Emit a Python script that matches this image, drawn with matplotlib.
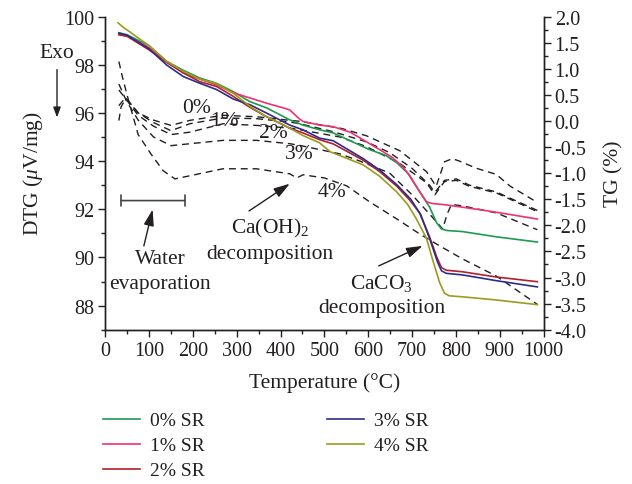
import matplotlib
matplotlib.use("Agg")
import matplotlib.pyplot as plt
from matplotlib.patches import FancyArrowPatch
from matplotlib.ticker import MultipleLocator, FormatStrFormatter

plt.rcParams["font.family"] = ["Liberation Serif", "DejaVu Serif"]
plt.rcParams["mathtext.fontset"] = "custom"
plt.rcParams["mathtext.rm"] = "Liberation Serif"
plt.rcParams["mathtext.it"] = "Liberation Serif:italic"
plt.rcParams["font.size"] = 14

labels = ["0% SR", "1% SR", "2% SR", "3% SR", "4% SR"]
colors = ["#1d9a50", "#f2306f", "#b3202a", "#2e2b8c", "#9c9b1d"]
curve_tags = ["0%", "1%", "2%", "3%", "4%"]

# TG curves (solid, right axis)
tg_temp_0 = [31, 50, 100, 140, 178, 216, 254, 292, 330, 368, 421, 451, 489,
             520, 603, 640, 665, 690, 710, 740, 756, 767, 780, 815, 892, 986]
tg_0 = [1.69, 1.65, 1.44, 1.14, 0.97, 0.82, 0.72, 0.56, 0.37, 0.25, 0.02,
        -0.08, -0.17, -0.23, -0.55, -0.66, -0.80, -1.00, -1.26, -1.65, -1.95,
        -2.07, -2.10, -2.12, -2.22, -2.32]

tg_temp_1 = [31, 50, 100, 140, 178, 216, 254, 292, 330, 368, 410, 421, 440,
             451, 489, 520, 560, 596, 626, 655, 679, 695, 710, 733, 745, 779,
             854, 900, 986]
tg_1 = [1.66, 1.63, 1.40, 1.14, 0.92, 0.80, 0.69, 0.54, 0.44, 0.34, 0.24,
        0.21, 0.06, -0.01, -0.08, -0.11, -0.22, -0.40, -0.55, -0.70, -0.88,
        -1.05, -1.26, -1.55, -1.58, -1.61, -1.70, -1.76, -1.88]

tg_temp_2 = [31, 50, 100, 140, 178, 216, 254, 292, 330, 368, 421, 451, 489,
             520, 588, 626, 665, 695, 717, 740, 756, 767, 778, 815, 892, 986]
tg_2 = [1.65, 1.62, 1.36, 1.12, 0.92, 0.75, 0.66, 0.47, 0.26, 0.08, -0.14,
        -0.23, -0.36, -0.44, -0.75, -0.97, -1.25, -1.52, -1.76, -2.22, -2.60,
        -2.81, -2.86, -2.89, -2.99, -3.08]

tg_temp_3 = [31, 50, 100, 140, 178, 216, 254, 292, 330, 368, 421, 451, 489,
             520, 588, 626, 665, 697, 720, 742, 758, 767, 778, 815, 892, 986]
tg_3 = [1.68, 1.64, 1.38, 1.07, 0.85, 0.72, 0.60, 0.42, 0.31, 0.15, -0.08,
        -0.17, -0.33, -0.38, -0.72, -0.94, -1.22, -1.50, -1.80, -2.30, -2.70,
        -2.87, -2.92, -2.95, -3.06, -3.18]

tg_temp_4 = [29, 40, 50, 100, 140, 178, 216, 254, 292, 330, 368, 421, 451,
             489, 513, 588, 626, 665, 690, 710, 733, 747, 763, 774, 785, 815,
             892, 986]
tg_4 = [1.88, 1.80, 1.74, 1.44, 1.14, 0.95, 0.80, 0.71, 0.53, 0.28, 0.08,
        -0.14, -0.28, -0.42, -0.59, -0.84, -1.06, -1.36, -1.60, -1.88, -2.25,
        -2.66, -3.10, -3.30, -3.35, -3.37, -3.43, -3.52]

# DTG curves (dashed, left axis)
dtg_temp_0 = [31, 36, 47, 75, 110, 150, 193, 269, 345, 421, 444, 540, 596,
              672, 733, 755, 774, 792, 808, 847, 892, 923, 986]
dtg_0 = [95.68, 96.25, 96.6, 96.0, 95.7, 95.48, 95.69, 95.9, 95.84, 95.69,
         95.65, 95.35, 95.05, 94.43, 93.56, 92.95, 93.97, 94.1, 94.0, 93.7,
         93.45, 92.97, 92.28]

dtg_temp_1 = [31, 40, 48, 75, 110, 150, 193, 269, 345, 421, 444, 520, 596,
              649, 700, 740, 752, 774, 801, 831, 892, 986]
dtg_1 = [96.3, 96.5, 96.6, 96.0, 95.6, 95.26, 95.55, 95.79, 95.76, 95.62,
         95.55, 95.22, 94.8, 94.35, 93.7, 93.0, 92.7, 93.2, 93.26, 93.0,
         92.72, 91.95]

dtg_temp_2 = [31, 48, 75, 110, 150, 193, 269, 345, 421, 444, 535, 596, 672,
              733, 752, 774, 801, 831, 892, 986]
dtg_2 = [96.95, 96.55, 95.9, 95.45, 95.1, 95.2, 95.55, 95.48, 95.37, 95.3,
         95.0, 94.6, 93.9, 93.1, 92.6, 93.15, 93.2, 92.95, 92.68, 91.9]

dtg_temp_3 = [31, 48, 75, 110, 150, 193, 269, 345, 421, 444, 535, 581, 649,
              700, 740, 770, 780, 790, 815, 892, 986]
dtg_3 = [97.2, 96.5, 95.7, 95.0, 94.64, 94.72, 94.86, 94.86, 94.72, 94.65,
         94.3, 94.0, 93.5, 92.6, 91.8, 91.18, 91.8, 92.2, 92.14, 91.85, 91.15]

dtg_temp_4 = [31, 40, 52, 75, 104, 132, 159, 193, 268, 345, 421, 437, 451,
              500, 551, 603, 665, 717, 763, 815, 892, 986]
dtg_4 = [98.13, 97.42, 96.59, 95.1, 94.3, 93.6, 93.26, 93.39, 93.68, 93.68,
         93.47, 93.3, 93.43, 93.3, 92.97, 92.31, 91.6, 90.98, 90.48, 89.94,
         89.23, 88.05]

tg_temps = [tg_temp_0, tg_temp_1, tg_temp_2, tg_temp_3, tg_temp_4]
tg_values = [tg_0, tg_1, tg_2, tg_3, tg_4]
dtg_temps = [dtg_temp_0, dtg_temp_1, dtg_temp_2, dtg_temp_3, dtg_temp_4]
dtg_values = [dtg_0, dtg_1, dtg_2, dtg_3, dtg_4]

# where the curve tags sit (temperature, DTG)
tag_pos = [(209, 96.22), (271, 95.68), (383, 95.18), (442, 94.30), (517, 92.72)]

ink = "#231f20"
big = 15.5


def arrow(ax, tail, head):
    ax.annotate("", xy=head, xytext=tail,
                arrowprops=dict(arrowstyle="-|>,head_length=0.7,head_width=0.22",
                                color=ink, lw=1.0, shrinkA=0, shrinkB=0))


def main():
    fig = plt.figure(figsize=(6.32, 4.85), dpi=100)
    ax = fig.add_axes([0.1666, 0.3181, 0.6934, 0.6458])
    ax2 = ax.twinx()

    for t, v in zip(dtg_temps, dtg_values):
        ax.plot(t, v, color=ink, lw=1.0, dashes=(5, 3.5))

    for t, v, c, lab in zip(tg_temps, tg_values, colors, labels):
        ax2.plot(t, v, color=c, lw=1.2, label=lab)

    for tag, (x, y) in zip(curve_tags, tag_pos):
        ax.text(x, y, tag, ha="center", va="center", color=ink, fontsize=big)

    # axes setup
    ax.set_xlim(0, 1000)
    ax.set_ylim(87, 100)
    ax2.set_ylim(-4, 2)
    ax.xaxis.set_major_locator(MultipleLocator(100))
    ax.xaxis.set_minor_locator(MultipleLocator(50))
    ax.yaxis.set_major_locator(MultipleLocator(2))
    ax.yaxis.set_minor_locator(MultipleLocator(1))
    ax2.yaxis.set_major_locator(MultipleLocator(0.5))
    ax2.yaxis.set_minor_locator(MultipleLocator(0.25))
    ax2.yaxis.set_major_formatter(FormatStrFormatter("%.1f"))

    for a in (ax, ax2):
        a.spines["top"].set_visible(False)
        for s in a.spines.values():
            s.set_linewidth(1.0)
            s.set_color(ink)
        a.tick_params(which="major", direction="out", length=5, width=1.0,
                      colors=ink, labelsize=14.5, pad=3)
        a.tick_params(which="minor", direction="out", length=3, width=1.0,
                      colors=ink)

    ax.set_xlabel("Temperature (°C)", color=ink, labelpad=9, fontsize=big)
    ax.set_ylabel(r"DTG ($\mu$V/mg)", color=ink, labelpad=14, fontsize=big)
    ax2.set_ylabel("TG (%)", color=ink, labelpad=13, fontsize=big)

    # Exo marker
    fig.text(0.0902, 0.8804, "Exo", ha="center", va="baseline", color=ink,
             fontsize=big)
    fig.patches.append(FancyArrowPatch(
        (0.0902, 0.860), (0.0902, 0.750), transform=fig.transFigure,
        arrowstyle="-|>,head_length=6,head_width=2.2", color=ink, lw=1.0))

    # water evaporation range
    ax.annotate("", xy=(36, 92.36), xytext=(182, 92.36),
                arrowprops=dict(arrowstyle="|-|,widthA=0.3,widthB=0.3",
                                color="#444444", lw=1.2, shrinkA=0, shrinkB=0))
    ax.text(125, 89.44, "Water\nevaporation", ha="center", va="center",
            color=ink, linespacing=1.45, fontsize=big)
    arrow(ax, (88, 90.48), (108, 91.99))

    ax.text(376, 90.73, "Ca(OH)$_2$\ndecomposition", ha="center", va="center",
            color=ink, linespacing=1.35, fontsize=big)
    arrow(ax, (328, 91.93), (421, 93.06))

    ax.text(631, 88.48, "CaCO$_3$\ndecomposition", ha="center", va="center",
            color=ink, linespacing=1.35, fontsize=big)
    arrow(ax, (624, 89.65), (724, 90.48))

    handles, labs = ax2.get_legend_handles_labels()
    fig.legend(handles, labs, loc="upper left", ncol=2, frameon=False,
               bbox_to_anchor=(0.163, 0.149), borderaxespad=0, borderpad=0,
               handlelength=1.9, handletextpad=0.5, columnspacing=6.3,
               labelspacing=0.38, labelcolor=ink)

    fig.savefig("out.png", dpi=100)


if __name__ == "__main__":
    main()
